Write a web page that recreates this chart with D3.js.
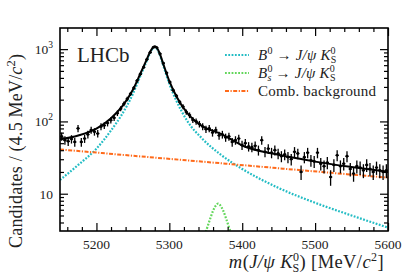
<!DOCTYPE html>
<html>
<head>
<meta charset="utf-8">
<script src="https://cdn.jsdelivr.net/npm/d3@7"></script>
<style>
  body { margin: 0; background: #fff; }
  svg text { font-family: "Liberation Serif", "DejaVu Serif", serif; fill: #222; }
</style>
</head>
<body>
<svg id="svg" width="411" height="278"></svg>
<script>
// binning of the data histogram
var massLow = 5150
var binWidth = 4.5

// candidates per bin (100 bins)
var counts = [62, 55, 53, 57, 52, 80, 52, 58, 66, 76,
  72, 68, 85, 88, 95, 104, 112, 130, 150, 175,
  205, 240, 290, 365, 450, 560, 720, 900, 1060, 1050,
  860, 640, 470, 350, 270, 225, 185, 160, 135, 122,
  105, 100, 92, 85, 78, 80, 70, 76, 64, 66,
  60, 62, 52, 55, 58, 47, 50, 45, 44, 46,
  40, 55, 38, 42, 37, 40, 36, 33, 35, 32,
  30, 38, 36, 20, 32, 37, 29, 28, 37, 26,
  24, 27, 17, 25, 34, 24, 26, 33, 22, 19,
  24, 23, 21, 25, 22, 20, 23, 21, 20, 21]

// fit curves, read at these masses
var curveMass = [5150, 5175, 5200, 5220, 5235, 5250, 5260, 5268, 5274, 5278, 5280, 5282,
  5286, 5292, 5300, 5310, 5325, 5345, 5370, 5400, 5450, 5500, 5550, 5600]
var totalFit = [56.5, 64, 79.5, 111, 160, 274, 453, 683, 932, 1072, 1092, 1072,
  912, 612, 361, 220, 129, 86, 68, 46.5, 34.5, 27.8, 23.4, 20.1]
var b0Fit = [15.5, 25, 42, 75, 125, 240, 420, 650, 900, 1040, 1060, 1040,
  880, 580, 330, 190, 100, 58, 35, 22, 12, 7.5, 5, 3.4]

var combMass = [5150, 5250, 5350, 5450, 5550, 5600]
var combFit = [41, 33.5, 27.5, 22.5, 18.4, 16.7]

var bsMass = [5345, 5350, 5355, 5360, 5364, 5367, 5370, 5374, 5379, 5384, 5389]
var bsFit = [2.5, 3.0, 4.2, 5.8, 6.9, 7.3, 6.9, 5.8, 4.2, 3.0, 2.5]

var xMajor = [5200, 5300, 5400, 5500, 5600]
var yMajor = [10, 100, 1000]
var yLabels = [["10", ""], ["10", "2"], ["10", "3"]]

var legendItems = [
  { key: "b0", color: "#22bcc4", dash: "1.8,1.5" },
  { key: "bs", color: "#62d65a", dash: "1.8,1.5" },
  { key: "comb", color: "#ff6a1a", dash: "4,1.5,1.2,1.5" }
]

var svg = d3.select("#svg")
const margin = { top: 28, right: 23, bottom: 47, left: 60 }
const W = 411, H = 278

let x = d3.scaleLinear().domain([5150, 5600]).range([margin.left, W - margin.right])
let y = d3.scaleLog().domain([3.05, 1960]).range([H - margin.bottom, margin.top])

svg.append("clipPath").attr("id", "clip")
  .append("rect")
  .attr("x", x.range()[0]).attr("y", y.range()[1])
  .attr("width", x.range()[1] - x.range()[0])
  .attr("height", y.range()[0] - y.range()[1])

let plot = svg.append("g").attr("clip-path", "url(#clip)")

//curves
function drawCurve(ms, vs, color, dash, w) {
  let line = d3.line()
    .x((d, i) => x(ms[i]))
    .y(d => y(d))
    .curve(d3.curveMonotoneX)
  plot.append("path")
    .attr("d", line(vs))
    .attr("fill", "none")
    .attr("stroke", color)
    .attr("stroke-width", w)
    .attr("stroke-dasharray", dash)
}
drawCurve(curveMass, b0Fit, legendItems[0].color, legendItems[0].dash, 2.2)
drawCurve(bsMass, bsFit, legendItems[1].color, legendItems[1].dash, 2.2)
drawCurve(combMass, combFit, legendItems[2].color, legendItems[2].dash, 2)

// data points with poisson errors
let pts = plot.selectAll(".pt")
  .data(counts)
  .enter().append("g")
  .attr("class", "pt")
pts.append("line")
  .attr("x1", (d, i) => x(massLow + binWidth * (i + 0.5)))
  .attr("x2", (d, i) => x(massLow + binWidth * (i + 0.5)))
  .attr("y1", d => y(d + Math.sqrt(d)))
  .attr("y2", d => y(d - Math.sqrt(d)))
  .attr("stroke", "#000").attr("stroke-width", 1.3)
pts.append("line")
  .attr("x1", (d, i) => x(massLow + binWidth * i))
  .attr("x2", (d, i) => x(massLow + binWidth * (i + 1)))
  .attr("y1", d => y(d))
  .attr("y2", d => y(d))
  .attr("stroke", "#000").attr("stroke-width", 1.3)
pts.append("circle")
  .attr("cx", (d, i) => x(massLow + binWidth * (i + 0.5)))
  .attr("cy", d => y(d))
  .attr("r", 1.4)
  .attr("fill", "#000")

drawCurve(curveMass, totalFit, "#000", null, 2)

// axes, ticks inside on all four sides
let xMinor = d3.range(5160, 5600, 20).filter(v => v % 100 != 0)
let yMinor = []
for (let dec of [1, 10, 100, 1000])
  for (let k = 2; k < 10; k++) {
    let v = k * dec
    if (v > y.domain()[0] && v < y.domain()[1]) yMinor.push(v)
  }

function tickAxis(axisFn, scale, vals, len, transform) {
  svg.append("g")
    .attr("transform", transform)
    .call(axisFn(scale).tickValues(vals).tickSizeInner(len).tickSizeOuter(0).tickFormat(""))
    .call(g => g.select(".domain").remove())
    .call(g => g.selectAll(".tick line").attr("stroke", "#000").attr("stroke-width", 1.2))
}
let bY = y.range()[0], tY = y.range()[1], lX = x.range()[0], rX = x.range()[1]
tickAxis(d3.axisBottom, x, xMajor, -8, "translate(0," + bY + ")")
tickAxis(d3.axisBottom, x, xMinor, -4, "translate(0," + bY + ")")
tickAxis(d3.axisTop, x, xMajor, -8, "translate(0," + tY + ")")
tickAxis(d3.axisTop, x, xMinor, -4, "translate(0," + tY + ")")
tickAxis(d3.axisLeft, y, yMajor, -8, "translate(" + lX + ",0)")
tickAxis(d3.axisLeft, y, yMinor, -4, "translate(" + lX + ",0)")
tickAxis(d3.axisRight, y, yMajor, -8, "translate(" + rX + ",0)")
tickAxis(d3.axisRight, y, yMinor, -4, "translate(" + rX + ",0)")

svg.append("rect")
  .attr("x", lX).attr("y", tY)
  .attr("width", rX - lX).attr("height", bY - tY)
  .attr("fill", "none").attr("stroke", "#000").attr("stroke-width", 1.6)

// tick labels
svg.selectAll(".xlab")
  .data(xMajor)
  .enter().append("text")
  .attr("x", d => x(d))
  .attr("y", bY + 18)
  .attr("text-anchor", "middle")
  .style("font-size", "13.5px")
  .text(d => d)

let yl = svg.selectAll(".ylab")
  .data(yMajor)
  .enter().append("text")
  .attr("x", 53)
  .attr("y", d => y(d) + 5)
  .attr("text-anchor", "end")
  .style("font-size", "13.5px")
yl.append("tspan").text((d, i) => yLabels[i][0])
yl.append("tspan").attr("dy", -6).style("font-size", "9.5px").text((d, i) => yLabels[i][1])

// axis titles
let yt = svg.append("text")
  .attr("transform", "translate(22,248)rotate(-90)")
  .attr("text-anchor", "start")
  .style("font-size", "18px")
  .style("letter-spacing", "0.2px")
yt.append("tspan").text("Candidates / (4.5 MeV/")
yt.append("tspan").style("font-style", "italic").text("c")
yt.append("tspan").attr("dy", -7).style("font-size", "12.5px").text("2")
yt.append("tspan").attr("dy", 7).text(")")

let xt = svg.append("text")
  .attr("x", rX - 4)
  .attr("y", 268)
  .attr("text-anchor", "end")
  .style("font-size", "18.5px")
  .style("letter-spacing", "0.4px")
xt.append("tspan").style("font-style", "italic").text("m")
xt.append("tspan").text("(")
xt.append("tspan").style("font-style", "italic").text("J/ψ K")
xt.append("tspan").attr("dy", -7).style("font-size", "12px").text("0")
xt.append("tspan").attr("dx", -7).attr("dy", 11).style("font-size", "12px").text("S")
xt.append("tspan").attr("dy", -4).text(") [MeV/")
xt.append("tspan").style("font-style", "italic").text("c")
xt.append("tspan").attr("dy", -7).style("font-size", "12px").text("2")
xt.append("tspan").attr("dy", 7).text("]")

svg.append("text")
  .attr("x", 77).attr("y", 62)
  .style("font-size", "21px")
  .text("LHCb")

// legend
let legend = svg.selectAll(".legend")
  .data(legendItems)
  .enter().append("g")
  .attr("class", "legend")
  .attr("transform", (d, i) => "translate(0," + (55 + i * 18) + ")")
legend.append("line")
  .attr("x1", 225).attr("x2", 249)
  .attr("stroke", d => d.color)
  .attr("stroke-width", 2)
  .attr("stroke-dasharray", d => d.dash)
let lt = legend.append("text")
  .attr("x", 258).attr("y", 5)
  .style("font-size", "15px")
  .style("letter-spacing", "0.2px")
lt.each(function (d) {
  let t = d3.select(this)
  if (d.key == "comb") { t.text("Comb. background"); return }
  t.append("tspan").style("font-style", "italic").text("B")
  t.append("tspan").attr("dy", -6).style("font-size", "10px").text("0")
  if (d.key == "bs")
    t.append("tspan").attr("dx", -5).attr("dy", 9).style("font-size", "10px").style("font-style", "italic").text("s")
  t.append("tspan").attr("dy", d.key == "bs" ? -3 : 6).text(" → ")
  t.append("tspan").style("font-style", "italic").text("J/ψ K")
  t.append("tspan").attr("dy", -6).style("font-size", "10px").text("0")
  t.append("tspan").attr("dx", -5).attr("dy", 9).style("font-size", "10px").text("S")
})
</script>
</body>
</html>
